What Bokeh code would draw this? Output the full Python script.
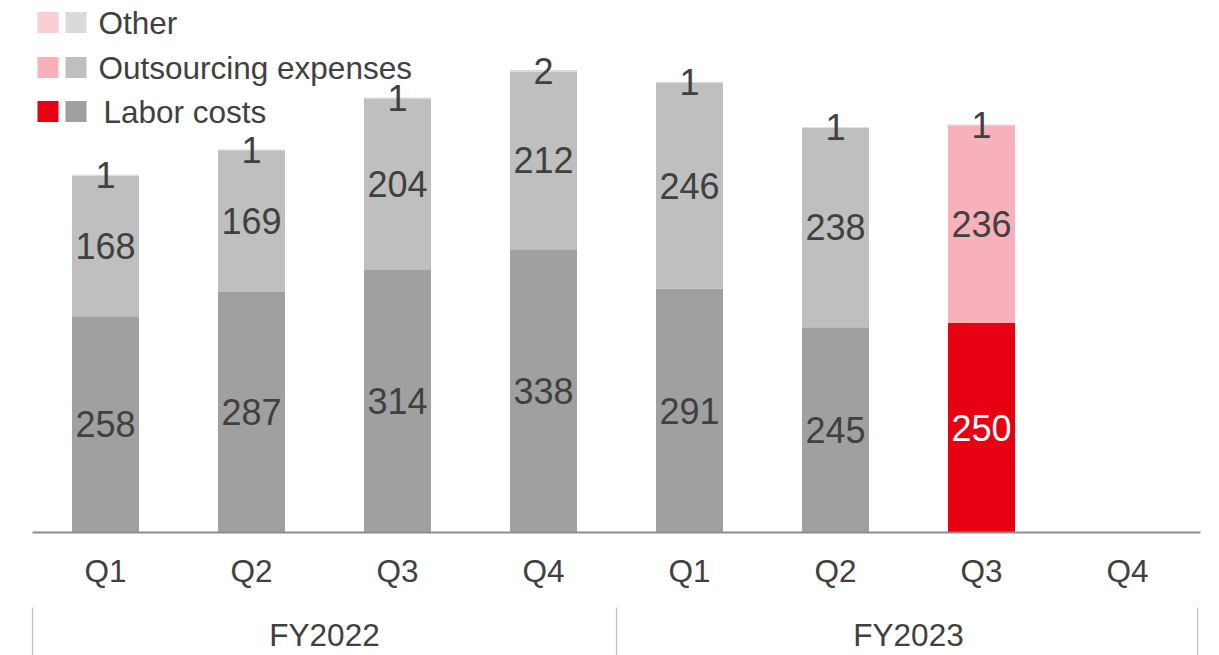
from bokeh.plotting import figure
from bokeh.models import Range1d, ColumnDataSource
from bokeh.core.properties import value
from bokeh.embed import file_html
from bokeh.resources import INLINE

# ---- data ----
quarters = ["Q1", "Q2", "Q3", "Q4", "Q1", "Q2", "Q3", "Q4"]
fiscal_years = ["FY2022", "FY2023"]
labor_costs = [258, 287, 314, 338, 291, 245, 250]
outsourcing = [168, 169, 204, 212, 246, 238, 236]
other = [1, 1, 1, 2, 1, 1, 1]
series_names = ["Other", "Outsourcing expenses", "Labor costs"]
highlight_index = 6

# ---- style ----
W, H = 1219, 655
PX_PER_CAT = 146.0
X_LEFT_PX = 32.0
BASE_PX = 532.0
PX_PER_UNIT = 0.838
FONT = "Liberation Sans"
TXT = "#404040"
LABEL_SIZE = "31.5px"

gray_cols = {"labor": "#a0a0a0", "out": "#bfbfbf", "other": "#dadada"}
red_cols = {"labor": "#e60012", "out": "#f8b1bb", "other": "#facdd2"}

def dx(px):
    return (px - X_LEFT_PX) / PX_PER_CAT

def dy(py):
    return (BASE_PX - py) / PX_PER_UNIT

p = figure(width=W, height=H, output_backend="svg", toolbar_location=None,
           x_range=Range1d(dx(0), dx(W)), y_range=Range1d(dy(H), dy(0)),
           x_axis_type=None, y_axis_type=None, min_border=0,
           outline_line_color=None, background_fill_color="white",
           border_fill_color="white")
p.grid.visible = False

n = len(labor_costs)
xs = [i + 0.5 for i in range(n)]
bar_w = 67 / PX_PER_CAT

def cols(key):
    return [red_cols[key] if i == highlight_index else gray_cols[key] for i in range(n)]

b_out_top = [l + o for l, o in zip(labor_costs, outsourcing)]
b_other_top = [t + q for t, q in zip(b_out_top, other)]

src = ColumnDataSource(dict(
    x=xs, labor=labor_costs, out_top=b_out_top, other_top=b_other_top,
    zero=[0] * n,
    c_labor=cols("labor"), c_out=cols("out"), c_other=cols("other"),
))

p.vbar(x="x", width=bar_w, bottom="zero", top="labor", fill_color="c_labor", line_color=None, source=src)
p.vbar(x="x", width=bar_w, bottom="labor", top="out_top", fill_color="c_out", line_color=None, source=src)
p.vbar(x="x", width=bar_w, bottom="out_top", top="other_top", fill_color="c_other", line_color=None, source=src)

# value labels
lab_src = ColumnDataSource(dict(
    x=xs * 3,
    y=[v / 2 for v in labor_costs]
      + [l + o / 2 for l, o in zip(labor_costs, outsourcing)]
      + [t + q / 2 for t, q in zip(b_out_top, other)],
    t=[str(v) for v in labor_costs] + [str(v) for v in outsourcing] + [str(v) for v in other],
    c=["white" if i == highlight_index else TXT for i in range(n)] + [TXT] * n * 2,
))
p.text(x="x", y="y", text="t", source=lab_src, text_color="c",
       text_font=value(FONT), text_font_size=value("36px"),
       text_align="center", text_baseline="middle")

# axis line
p.segment(x0=[0], y0=[0], x1=[len(quarters)], y1=[0], line_color="#8c8c8c", line_width=2)

# quarter labels
p.text(x=[i + 0.5 for i in range(len(quarters))], y=[dy(570)] * len(quarters), text=quarters,
       text_color=TXT, text_font=value(FONT), text_font_size=value(LABEL_SIZE),
       text_align="center", text_baseline="middle")

# fiscal-year labels and separators
per_year = len(quarters) // len(fiscal_years)
p.text(x=[per_year * (k + 0.5) for k in range(len(fiscal_years))], y=[dy(634)] * len(fiscal_years),
       text=fiscal_years, text_color=TXT, text_font=value(FONT), text_font_size=value(LABEL_SIZE),
       text_align="center", text_baseline="middle")
sep_x = [per_year * k for k in range(len(fiscal_years) + 1)]
sep_x[-1] = sep_x[-1] - 0.02
p.segment(x0=sep_x, y0=[dy(607)] * len(sep_x), x1=sep_x, y1=[dy(H)] * len(sep_x),
          line_color="#bfbfbf", line_width=1.2)

# legend
leg_y = [dy(22), dy(67), dy(111)]
pinks = [red_cols["other"], red_cols["out"], red_cols["labor"]]
grays = [gray_cols["other"], gray_cols["out"], gray_cols["labor"]]
p.rect(x=[dx(47.5)] * 3, y=leg_y, width=21, height=21, width_units="screen", height_units="screen",
       fill_color=pinks, line_color=None)
p.rect(x=[dx(75.5)] * 3, y=leg_y, width=21, height=21, width_units="screen", height_units="screen",
       fill_color=grays, line_color=None)
p.text(x=[dx(98), dx(98), dx(103)], y=leg_y, text=series_names, text_color=TXT,
       text_font=value(FONT), text_font_size=value(LABEL_SIZE), text_align="left", text_baseline="middle")

open("out.html", "w").write(file_html(p, INLINE))
